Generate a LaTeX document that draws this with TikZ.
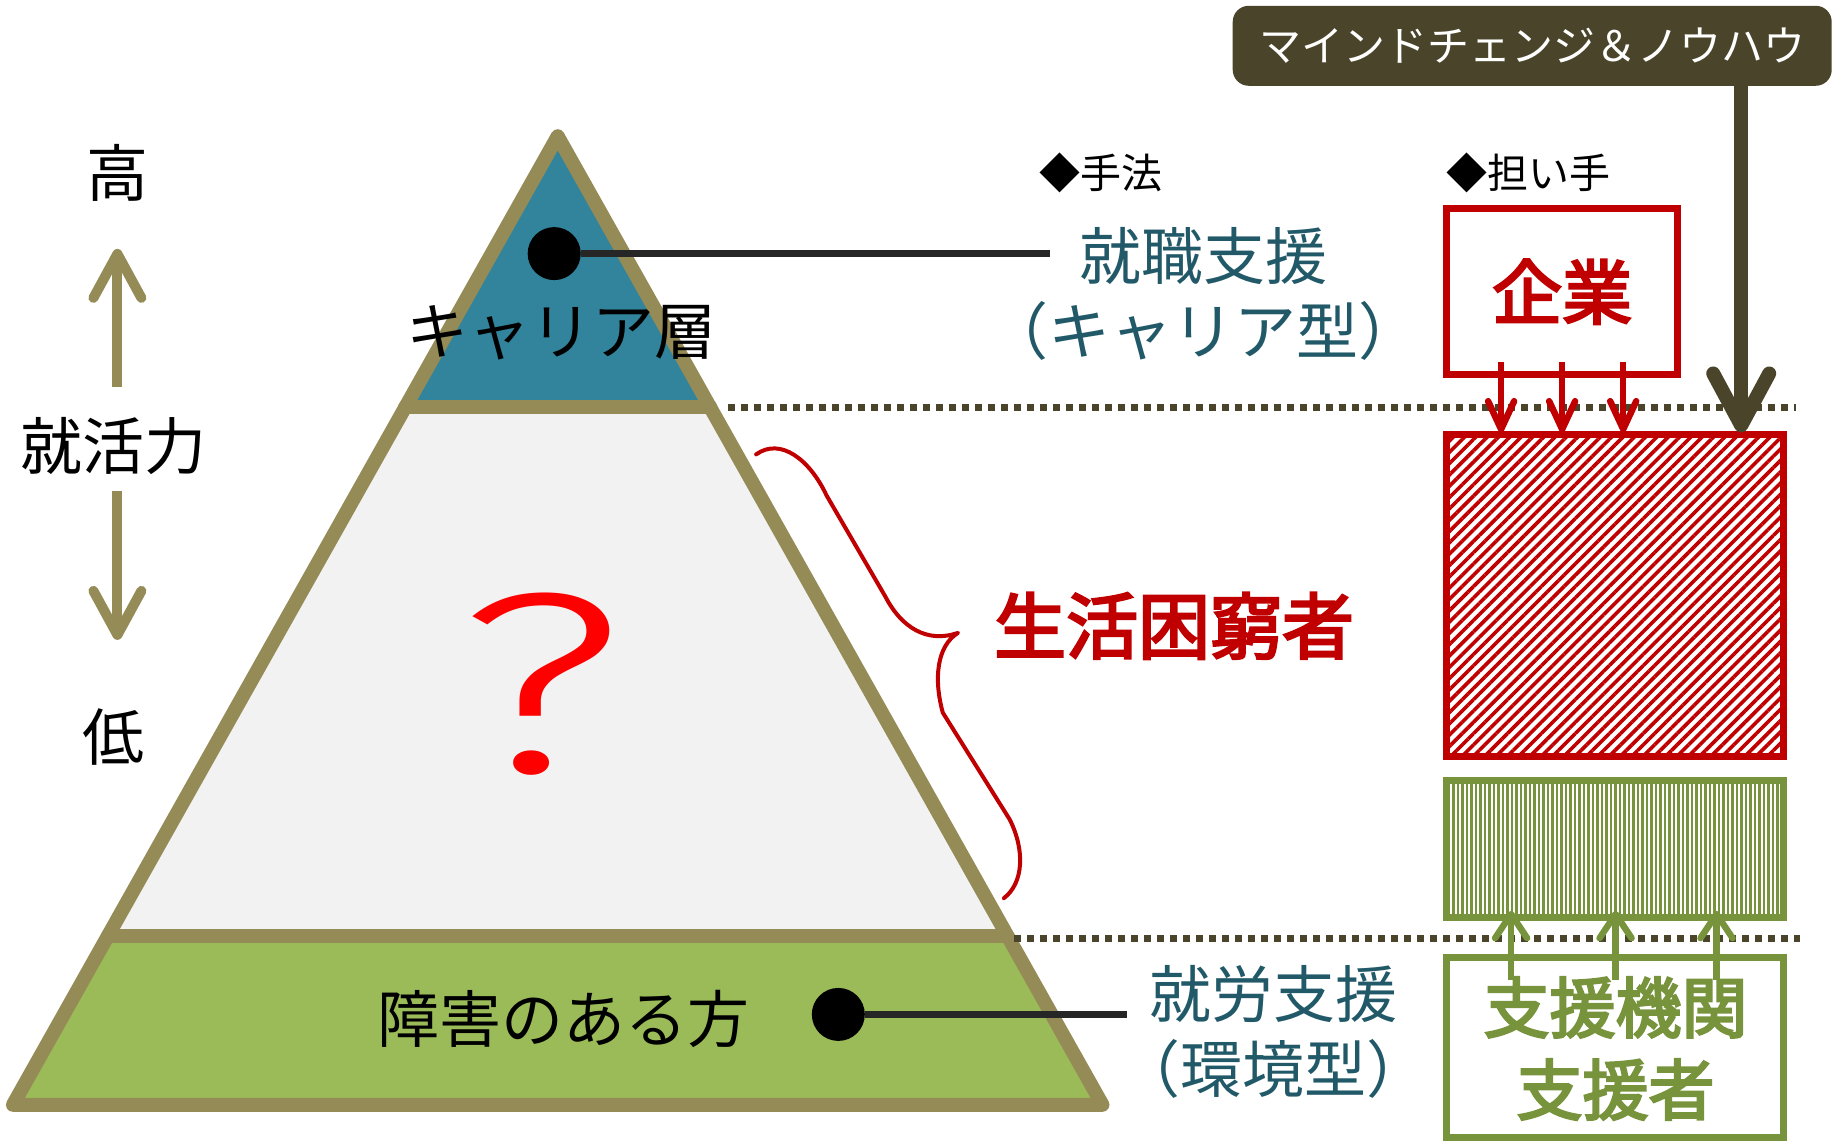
\documentclass[tikz,border=0pt]{standalone}
\usepackage{fontspec}
\usepackage{graphicx}
\usetikzlibrary{arrows.meta,patterns.meta,calc}
\newfontfamily\jp{Noto Sans CJK JP}
\newfontfamily\jpmed{Noto Sans CJK JP}[FakeBold=3.5]
\newfontfamily\qfont{Fira Sans Light}
\newcommand\jfs[1]{\fontsize{#1}{#1}\selectfont}
\definecolor{pyrolive}{HTML}{958B57}
\definecolor{darkol}{HTML}{4A452A}
\definecolor{tealfill}{HTML}{31849B}
\definecolor{tealtext}{HTML}{215968}
\definecolor{midgray}{HTML}{F2F2F2}
\definecolor{grnfill}{HTML}{9BBB59}
\definecolor{grnline}{HTML}{77933C}
\definecolor{redA}{HTML}{C00000}
\definecolor{redQ}{HTML}{FF0000}
\definecolor{leadc}{HTML}{262626}
\tikzset{
  every node/.style={inner sep=0pt, font=\jp},
  pyr/.style={draw=pyrolive, line width=14pt, line join=round, line cap=round},
  dotline/.style={draw=darkol, line width=7pt, dash pattern=on 7pt off 6pt},
  levarrow/.style={draw=pyrolive, line width=10pt, -{Straight Barb[length=44pt,width=48pt,round]}},
  bigarrow/.style={draw=darkol, line width=14pt, -{Straight Barb[length=52pt,width=56pt,round]}},
  redarrow/.style={draw=redA, line width=6.5pt, -{Straight Barb[length=28pt,width=26pt,round]}},
  grnarrow/.style={draw=grnline, line width=6.5pt, -{Straight Barb[length=24pt,width=32pt,round]}},
  leader/.style={draw=leadc, line width=7pt},
  blackdot/.style={circle, fill=black, minimum size=53pt},
  lbl/.style={font=\jp\jfs{62pt}},
  tlbl/.style={font=\jp\jfs{62pt}, text=tealtext},
}
\begin{document}
\begin{tikzpicture}[x=1.1741pt,y=-1.1741pt]
\useasboundingbox (0,0) rectangle (1568,974);

% pyramid
\fill[tealfill] (475,116) -- (345,347) -- (605,347) -- cycle;
\fill[midgray] (345,347) -- (605,347) -- (858,797) -- (92,797) -- cycle;
\fill[grnfill] (92,797) -- (858,797) -- (939,941) -- (11,941) -- cycle;
\draw[pyr] (475,116) -- (939,941) -- (11,941) -- cycle;
\draw[pyr] (345,347) -- (605,347);
\draw[pyr] (92,797) -- (858,797);

% dotted level lines
\draw[dotline] (620,347) -- (1530,347);
\draw[dotline] (864,799) -- (1533,799);

% left scale
\node[lbl] (high) at (100,147) {高};
\node[lbl] (power) at (97,380) {就活力};
\node[lbl] (low) at (97,628) {低};
\coordinate (upS) at (100,330);
\coordinate (upE) at (100,212);
\coordinate (dnS) at (100,418);
\coordinate (dnE) at (100,545);
\draw[levarrow] (upS) -- (upE);
\draw[levarrow] (dnS) -- (dnE);

% pyramid labels
\node[lbl] (career) at (478,283) {キャリア層};
\node[lbl] (disab) at (480,868) {障害のある方};
\node[text=redQ, font=\qfont\jfs{258pt}] (qmark) at (461,583) {\scalebox{1.45}[1]{?}};

% methods
\node[font=\jp\jfs{41pt}] (method) at (938,147) {◆手法};
\node[tlbl] (shushoku) at (1025,218) {就職支援};
\node[tlbl] (shushoku2) at (1025,282) {（キャリア型）};
\node[tlbl] (shurou) at (1085,847) {就労支援};
\node[tlbl] (shurou2) at (1085,910) {（環境型）};

\node[blackdot] (dot1) at (472,216) {};
\node[blackdot] (dot2) at (714,864) {};
\draw[leader, shorten >=29pt] (dot1) -- (dot1 -| shushoku.west);
\draw[leader, shorten >=23pt] (dot2) -- (dot2 -| shurou.west);

% brace and label
\draw[redA, line width=4pt, line cap=round, line join=round]
  (644,387) .. controls (665,372) and (690,392) .. (704,422)
  -- (754,508) .. controls (768,535) and (790,548) .. (816,539)
  .. controls (798,550) and (795,578) .. (803,607)
  -- (860,698) .. controls (873,724) and (872,752) .. (855,765);
\node[font=\jpmed\jfs{72pt}, text=redA] (poor) at (1000,533) {生活困窮者};

% actors
\node[font=\jp\jfs{41pt}] (actor) at (1302,147) {◆担い手};
\node[draw=redA, line width=7pt, minimum width=231pt, minimum height=166pt,
      font=\jpmed\jfs{70pt}, text=redA] (kigyo) at (1330.5,248.5) {企業};
\node[draw=redA, line width=7pt, minimum width=337pt, minimum height=322pt,
      pattern={Lines[angle=45,distance=8pt,line width=3.6pt]}, pattern color=redA] (hatch) at (1375.5,507) {};
\node[draw=grnline, line width=7pt, minimum width=337pt, minimum height=137pt,
      pattern={Lines[angle=90,distance=4.5pt,line width=2.2pt]}, pattern color=grnline] (linesbox) at (1375.5,723.5) {};
\node[draw=grnline, line width=7pt, minimum width=337pt, minimum height=180pt] (supbox) at (1375.5,892.5) {};
\node[font=\jpmed\jfs{66pt}, text=grnline] (sup1) at (1376,858) {支援機関};
\node[font=\jpmed\jfs{66pt}, text=grnline] (sup2) at (1376,928) {支援者};

% mind change box and arrow
\node[fill=darkol, rounded corners=16pt, minimum width=599pt, minimum height=80pt,
      text=white, font=\jp\jfs{42pt}] (mind) at (1305,39) {マインドチェンジ＆ノウハウ};
\coordinate (kx) at (1483,0);
\draw[bigarrow] (mind.south -| kx) -- (hatch.north -| kx);

% red arrows
\foreach \dx in {-52,0,52} {
  \path ($(kigyo.south)+(\dx,-14)$) coordinate (rs);
  \draw[redarrow] (rs) -- (rs |- hatch.north);
}
% green arrows
\foreach \dx in {-88.5,0.5,86.5} {
  \draw[grnarrow] ($(supbox.north)+(\dx,22)$) -- ($(linesbox.south)+(\dx,-7)$);
}
\end{tikzpicture}
\end{document}
